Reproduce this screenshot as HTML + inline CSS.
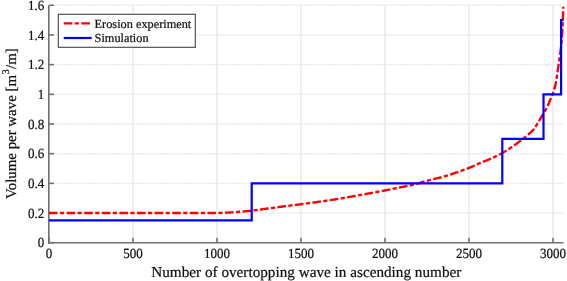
<!DOCTYPE html>
<html><head><meta charset="utf-8"><style>
html,body{margin:0;padding:0;background:#fff;width:567px;height:281px;overflow:hidden}
svg{display:block;will-change:transform;font-family:"Liberation Serif",serif;text-rendering:geometricPrecision}
</style></head><body>
<svg width="567" height="281" viewBox="0 0 567 281">
<rect width="567" height="281" fill="#fff"/>
<g stroke="#e8e8e8" stroke-width="1.4"><line x1="133.00" y1="242.70" x2="133.00" y2="5.30"/><line x1="217.00" y1="242.70" x2="217.00" y2="5.30"/><line x1="301.00" y1="242.70" x2="301.00" y2="5.30"/><line x1="385.00" y1="242.70" x2="385.00" y2="5.30"/><line x1="469.00" y1="242.70" x2="469.00" y2="5.30"/><line x1="553.00" y1="242.70" x2="553.00" y2="5.30"/></g>
<g stroke="#e9e9e9" stroke-width="1.4" stroke-dasharray="2.2 0.8"><line x1="49.00" y1="213.02" x2="563.50" y2="213.02"/><line x1="49.00" y1="183.35" x2="563.50" y2="183.35"/><line x1="49.00" y1="153.68" x2="563.50" y2="153.68"/><line x1="49.00" y1="124.00" x2="563.50" y2="124.00"/><line x1="49.00" y1="94.33" x2="563.50" y2="94.33"/><line x1="49.00" y1="64.65" x2="563.50" y2="64.65"/><line x1="49.00" y1="34.98" x2="563.50" y2="34.98"/><line x1="49.00" y1="5.30" x2="563.50" y2="5.30"/></g>
<g stroke="#707070" stroke-width="1.6"><line x1="48.8" y1="5.30" x2="48.8" y2="243.40"/><line x1="48.099999999999994" y1="242.7" x2="563.5" y2="242.7"/><line x1="49.00" y1="242.7" x2="49.00" y2="237.7"/><line x1="133.00" y1="242.7" x2="133.00" y2="237.7"/><line x1="217.00" y1="242.7" x2="217.00" y2="237.7"/><line x1="301.00" y1="242.7" x2="301.00" y2="237.7"/><line x1="385.00" y1="242.7" x2="385.00" y2="237.7"/><line x1="469.00" y1="242.7" x2="469.00" y2="237.7"/><line x1="553.00" y1="242.7" x2="553.00" y2="237.7"/><line x1="49.0" y1="242.70" x2="54.0" y2="242.70"/><line x1="49.0" y1="213.02" x2="54.0" y2="213.02"/><line x1="49.0" y1="183.35" x2="54.0" y2="183.35"/><line x1="49.0" y1="153.68" x2="54.0" y2="153.68"/><line x1="49.0" y1="124.00" x2="54.0" y2="124.00"/><line x1="49.0" y1="94.33" x2="54.0" y2="94.33"/><line x1="49.0" y1="64.65" x2="54.0" y2="64.65"/><line x1="49.0" y1="34.98" x2="54.0" y2="34.98"/><line x1="49.0" y1="5.30" x2="54.0" y2="5.30"/></g>
<polyline points="49.00,213.00 214.25,212.99 215.25,212.98 216.25,212.96 217.26,212.94 218.26,212.92 219.26,212.90 220.26,212.87 221.26,212.84 222.26,212.81 223.27,212.77 224.27,212.74 225.27,212.70 226.27,212.67 227.27,212.63 228.27,212.59 229.27,212.54 230.27,212.49 231.27,212.42 232.26,212.35 233.26,212.27 234.26,212.19 235.26,212.10 236.26,212.01 237.26,211.93 238.25,211.84 239.25,211.76 240.25,211.68 241.25,211.60 242.25,211.53 243.25,211.46 244.25,211.38 245.25,211.31 246.25,211.23 247.24,211.15 248.24,211.06 249.24,210.97 250.23,210.88 251.23,210.77 252.22,210.65 253.22,210.53 254.21,210.40 255.20,210.26 256.20,210.13 257.19,209.99 258.18,209.85 259.17,209.71 260.17,209.58 261.16,209.45 262.15,209.31 263.14,209.18 264.14,209.05 265.13,208.91 266.12,208.78 267.11,208.64 268.11,208.51 269.10,208.37 270.09,208.24 271.08,208.10 272.08,207.97 273.07,207.83 274.06,207.70 275.05,207.56 276.05,207.43 277.04,207.29 278.03,207.16 279.02,207.03 280.02,206.90 281.01,206.77 282.00,206.64 283.00,206.51 283.99,206.38 284.98,206.26 285.98,206.13 286.97,206.00 287.96,205.88 288.96,205.75 289.95,205.63 290.94,205.50 291.94,205.38 292.93,205.25 293.92,205.12 294.92,205.00 295.91,204.87 296.91,204.74 297.90,204.61 298.89,204.48 299.88,204.35 300.88,204.22 301.87,204.08 302.86,203.95 303.85,203.82 304.85,203.68 305.84,203.55 306.83,203.41 307.82,203.28 308.82,203.15 309.81,203.01 310.80,202.88 311.80,202.74 312.79,202.61 313.78,202.47 314.77,202.33 315.77,202.20 316.76,202.06 317.75,201.92 318.74,201.78 319.73,201.65 320.73,201.51 321.72,201.37 322.71,201.23 323.70,201.08 324.69,200.94 325.68,200.80 326.67,200.65 327.67,200.51 328.66,200.36 329.65,200.21 330.64,200.07 331.63,199.92 332.62,199.77 333.61,199.61 334.60,199.46 335.59,199.31 336.58,199.15 337.56,198.99 338.55,198.83 339.54,198.67 340.53,198.51 341.52,198.34 342.50,198.17 343.49,198.00 344.47,197.82 345.46,197.63 346.44,197.45 347.43,197.27 348.41,197.09 349.40,196.91 350.38,196.73 351.37,196.56 352.36,196.38 353.34,196.21 354.33,196.04 355.32,195.86 356.30,195.69 357.29,195.52 358.28,195.35 359.26,195.18 360.25,195.00 361.24,194.83 362.22,194.66 363.21,194.48 364.20,194.31 365.18,194.13 366.17,193.96 367.15,193.78 368.14,193.60 369.12,193.42 370.11,193.24 371.09,193.07 372.08,192.89 373.07,192.71 374.05,192.53 375.04,192.34 376.02,192.16 377.01,191.98 377.99,191.80 378.97,191.61 379.96,191.43 380.94,191.24 381.93,191.05 382.91,190.86 383.89,190.67 384.88,190.48 385.86,190.29 386.84,190.09 387.82,189.90 388.80,189.69 389.78,189.49 390.77,189.29 391.75,189.08 392.73,188.88 393.71,188.67 394.69,188.47 395.67,188.26 396.65,188.06 397.63,187.86 398.61,187.66 399.59,187.46 400.58,187.27 401.56,187.08 402.54,186.90 403.53,186.72 404.52,186.54 405.50,186.35 406.48,186.16 407.47,185.97 408.45,185.77 409.43,185.56 410.40,185.34 411.38,185.11 412.35,184.87 413.32,184.62 414.29,184.37 415.26,184.11 416.22,183.85 417.19,183.59 418.16,183.33 419.12,183.07 420.09,182.80 421.05,182.52 422.02,182.25 422.98,181.97 423.94,181.70 424.91,181.43 425.87,181.16 426.84,180.90 427.81,180.65 428.78,180.40 429.75,180.15 430.72,179.90 431.69,179.66 432.66,179.41 433.63,179.17 434.60,178.92 435.58,178.68 436.55,178.45 437.52,178.21 438.50,177.98 439.47,177.74 440.44,177.50 441.42,177.25 442.38,177.00 443.35,176.74 444.31,176.47 445.27,176.19 446.23,175.90 447.19,175.61 448.14,175.30 449.09,175.00 450.05,174.68 451.00,174.37 451.95,174.04 452.89,173.72 453.84,173.39 454.79,173.06 455.74,172.73 456.68,172.40 457.63,172.07 458.57,171.74 459.52,171.41 460.46,171.08 461.41,170.75 462.36,170.42 463.30,170.08 464.24,169.74 465.18,169.40 466.12,169.05 467.06,168.70 467.99,168.34 468.93,167.97 469.85,167.60 470.78,167.21 471.69,166.81 472.61,166.40 473.52,165.99 474.43,165.57 475.34,165.14 476.25,164.72 477.16,164.30 478.07,163.89 478.99,163.49 479.91,163.10 480.84,162.72 481.77,162.34 482.70,161.97 483.63,161.60 484.56,161.24 485.49,160.87 486.42,160.50 487.35,160.12 488.28,159.74 489.20,159.35 490.12,158.95 491.03,158.54 491.94,158.13 492.86,157.72 493.77,157.30 494.68,156.87 495.59,156.44 496.49,156.01 497.39,155.57 498.29,155.12 499.18,154.67 500.07,154.21 500.96,153.74 501.84,153.27 502.71,152.78 503.57,152.29 504.44,151.79 505.29,151.27 506.15,150.75 507.00,150.22 507.84,149.68 508.68,149.13 509.52,148.58 510.36,148.02 511.19,147.46 512.02,146.89 512.85,146.32 513.67,145.75 514.49,145.18 515.31,144.61 516.13,144.03 516.94,143.45 517.75,142.85 518.55,142.26 519.35,141.65 520.15,141.05 520.95,140.43 521.74,139.82 522.52,139.20 523.31,138.58 524.10,137.96 524.88,137.34 525.66,136.71 526.44,136.07 527.21,135.43 527.98,134.79 528.74,134.13 529.48,133.47 530.22,132.80 530.97,132.12 531.71,131.43 532.43,130.73 533.13,130.01 533.78,129.26 534.39,128.49 534.97,127.68 535.51,126.85 536.04,126.00 536.55,125.13 537.06,124.25 537.56,123.38 538.06,122.50 538.58,121.64 539.10,120.78 539.62,119.93 540.13,119.07 540.65,118.21 541.16,117.35 541.68,116.49 542.19,115.63 542.70,114.77 543.21,113.91 543.73,113.05 544.26,112.19 544.78,111.34 545.30,110.48 545.81,109.61 546.30,108.74 546.77,107.86 547.21,106.97 547.63,106.07 548.04,105.15 548.43,104.23 548.81,103.30 549.19,102.37 549.56,101.44 549.93,100.51 550.31,99.58 550.69,98.65 551.07,97.73 551.45,96.80 551.82,95.87 552.18,94.93 552.54,94.00 552.89,93.06 553.24,92.12 553.59,91.18 553.91,90.23 554.22,89.28 554.50,88.32 554.76,87.35 555.02,86.38 555.26,85.41 555.49,84.43 555.71,83.46 555.90,82.48 556.09,81.49 556.26,80.51 556.42,79.52 556.58,78.53 556.73,77.54 556.87,76.55 557.02,75.56 557.16,74.56 557.30,73.57 557.44,72.58 557.59,71.59 557.74,70.60 557.88,69.61 558.02,68.62 558.17,67.62 558.31,66.63 558.45,65.64 558.59,64.65 558.73,63.66 558.87,62.67 559.01,61.67 559.15,60.68 559.29,59.69 559.43,58.70 559.58,57.71 559.72,56.72 559.87,55.73 560.02,54.73 560.16,53.74 560.30,52.75 560.44,51.76 560.57,50.77 560.70,49.77 560.81,48.78 560.92,47.78 561.03,46.79 561.13,45.79 561.23,44.80 561.33,43.80 561.43,42.80 561.52,41.81 561.61,40.81 561.70,39.81 561.78,38.81 561.86,37.81 561.94,36.81 562.01,35.81 562.08,34.81 562.15,33.82 562.21,32.82 562.27,31.82 562.33,30.82 562.38,29.82 562.43,28.82 562.48,27.82 562.53,26.82 562.57,25.82 562.62,24.82 562.66,23.81 562.70,22.81 562.75,21.81 562.79,20.81 562.83,19.81 562.87,18.81 562.91,17.81 562.95,16.81 562.99,15.81 563.02,14.81 563.06,13.81 563.10,12.81 563.13,11.80 563.17,10.80 563.20,9.80 563.24,8.80 563.27,7.80 563.30,6.80" fill="none" stroke="#ff0000" stroke-width="2.4" stroke-dasharray="8.6 2.4 4.2 2.4"/>
<path d="M49.0,220.44 H251.7 V183.35 H502.3 V138.84 H543.5 V94.33 H561.1 V20.14 H563.5" fill="none" stroke="#0000ff" stroke-width="2.2" stroke-linejoin="miter"/>
<g font-size="14" fill="#111" stroke="#111" stroke-width="0.22"><text transform="translate(49.00,257.90) scale(0.93,1)" text-anchor="middle">0</text><text transform="translate(133.00,257.90) scale(0.93,1)" text-anchor="middle">500</text><text transform="translate(217.00,257.90) scale(0.93,1)" text-anchor="middle">1000</text><text transform="translate(301.00,257.90) scale(0.93,1)" text-anchor="middle">1500</text><text transform="translate(385.00,257.90) scale(0.93,1)" text-anchor="middle">2000</text><text transform="translate(469.00,257.90) scale(0.93,1)" text-anchor="middle">2500</text><text transform="translate(553.00,257.90) scale(0.93,1)" text-anchor="middle">3000</text><text transform="translate(44.3,247.30) scale(0.93,1)" text-anchor="end">0</text><text transform="translate(44.3,217.62) scale(0.93,1)" text-anchor="end">0.2</text><text transform="translate(44.3,187.95) scale(0.93,1)" text-anchor="end">0.4</text><text transform="translate(44.3,158.28) scale(0.93,1)" text-anchor="end">0.6</text><text transform="translate(44.3,128.60) scale(0.93,1)" text-anchor="end">0.8</text><text transform="translate(44.3,98.93) scale(0.93,1)" text-anchor="end">1</text><text transform="translate(44.3,69.25) scale(0.93,1)" text-anchor="end">1.2</text><text transform="translate(44.3,39.58) scale(0.93,1)" text-anchor="end">1.4</text><text transform="translate(44.3,9.90) scale(0.93,1)" text-anchor="end">1.6</text></g>
<text x="306.3" y="276.8" text-anchor="middle" font-size="15.2" fill="#111" stroke="#111" stroke-width="0.22" textLength="310" lengthAdjust="spacing">Number of overtopping wave in ascending number</text>
<text transform="translate(15.9,199.0) rotate(-90)" font-size="14.9" fill="#111" stroke="#111" stroke-width="0.22"><tspan x="0" textLength="124.0" lengthAdjust="spacing">Volume per wave [m</tspan><tspan x="124.5" dy="-7" font-size="10.43">3</tspan><tspan x="130.0" dy="7">/m]</tspan></text>
<rect x="58.3" y="14.3" width="137" height="33" fill="#fff" stroke="#444" stroke-width="1.1"/>
<line x1="63.7" y1="23.4" x2="90.5" y2="23.4" stroke="#ff0000" stroke-width="2.4" stroke-dasharray="8.6 2.4 4.2 2.4"/>
<line x1="63.7" y1="38" x2="91.7" y2="38" stroke="#0000ff" stroke-width="2.2"/>
<text x="94.6" y="27.6" font-size="12.3" fill="#111" stroke="#111" stroke-width="0.22">Erosion experiment</text>
<text x="94.6" y="41.9" font-size="12.3" fill="#111" stroke="#111" stroke-width="0.22">Simulation</text>
</svg>
</body></html>
